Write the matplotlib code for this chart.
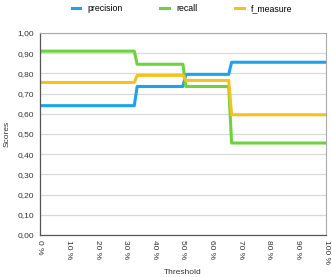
import numpy as np
import matplotlib.pyplot as plt
from matplotlib.ticker import FuncFormatter

plt.rcParams['font.family'] = ['Liberation Sans', 'DejaVu Sans']

# threshold (%) at step edges
threshold = [0, 33, 34, 50, 51, 66, 67, 100]
precision = [0.64, 0.64, 0.735, 0.735, 0.795, 0.795, 0.855, 0.855]
recall = [0.91, 0.91, 0.845, 0.845, 0.735, 0.735, 0.455, 0.455]
f_measure = [0.755, 0.755, 0.79, 0.79, 0.765, 0.765, 0.595, 0.595]

fig = plt.figure(figsize=(3.32, 2.77), dpi=100)
ax = fig.add_axes([0.12, 0.152, 0.862, 0.729])

ax.plot(threshold, precision, color='#1BA3F0', lw=2.2, label='precision')
ax.plot(threshold, recall, color='#6CD33C', lw=2.2, label='recall')
ax.plot(threshold, f_measure, color='#F5C21B', lw=2.2, label='f_measure')

ax.set_xlim(0, 100)
ax.set_ylim(0, 1)
ax.set_xticks(np.arange(0, 101, 10))
ax.set_yticks(np.arange(0, 1.01, 0.1))
ax.xaxis.set_major_formatter(FuncFormatter(lambda v, p: '%d %%' % v))
ax.yaxis.set_major_formatter(FuncFormatter(lambda v, p: ('%.2f' % v).replace('.', ',')))
ax.tick_params(axis='x', labelrotation=-90, labelsize=6, length=0, pad=4, colors='#333333')
ax.tick_params(axis='y', labelsize=6, length=0, pad=4, colors='#333333')
ax.grid(axis='y', color='#d9d9d9', lw=0.9)
ax.set_axisbelow(True)

for s in ['top', 'right']:
    ax.spines[s].set_color('#aaaaaa')
    ax.spines[s].set_linewidth(0.8)
for s in ['left', 'bottom']:
    ax.spines[s].set_color('#555555')
    ax.spines[s].set_linewidth(0.9)

ax.set_xlabel('Threshold', fontsize=6, color='#333333', labelpad=3)
ax.set_ylabel('Scores', fontsize=6, color='#333333', labelpad=5)

fig.legend(loc='upper center', bbox_to_anchor=(0.548, 1.015), ncol=3, frameon=False,
           fontsize=6.3, handlelength=1.0, columnspacing=4.3, handletextpad=0.8)

fig.savefig('out.png', dpi=100)
